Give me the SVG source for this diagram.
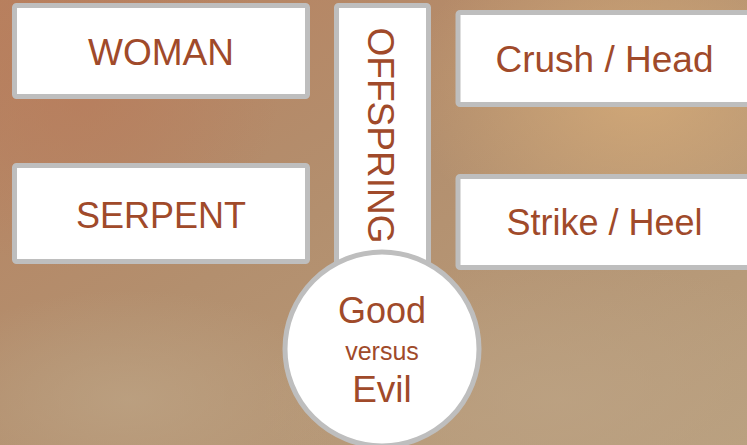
<svg xmlns="http://www.w3.org/2000/svg" width="747" height="445" viewBox="0 0 747 445">
<defs>
<linearGradient id="bg" x1="0" y1="0" x2="1" y2="1">
<stop offset="0" stop-color="#b8815f"/>
<stop offset="0.45" stop-color="#b38f6e"/>
<stop offset="1" stop-color="#b9a07f"/>
</linearGradient>
<radialGradient id="blobR" cx="0.5" cy="0.5" r="0.5">
<stop offset="0" stop-color="#dcb07a" stop-opacity="0.7"/>
<stop offset="1" stop-color="#dcb07a" stop-opacity="0"/>
</radialGradient>
<radialGradient id="blobL" cx="0.5" cy="0.5" r="0.5">
<stop offset="0" stop-color="#b87a5a" stop-opacity="0.6"/>
<stop offset="1" stop-color="#b87a5a" stop-opacity="0"/>
</radialGradient>
<radialGradient id="blobB" cx="0.5" cy="0.5" r="0.5">
<stop offset="0" stop-color="#bca283" stop-opacity="0.8"/>
<stop offset="1" stop-color="#bca283" stop-opacity="0"/>
</radialGradient>
</defs>
<style>
.box{fill:#ffffff;stroke:#bebebe;stroke-width:5}
.lbl{font-family:"Liberation Sans",Arial,sans-serif;fill:#a04a2a;text-anchor:middle}
</style>
<rect x="0" y="0" width="747" height="445" fill="url(#bg)"/>
<ellipse cx="640" cy="90" rx="230" ry="170" fill="url(#blobR)"/>
<ellipse cx="80" cy="90" rx="200" ry="180" fill="url(#blobL)"/>
<ellipse cx="560" cy="400" rx="300" ry="140" fill="url(#blobB)"/>
<ellipse cx="130" cy="400" rx="220" ry="110" fill="url(#blobB)"/>
<g id="connectors"></g>
<g id="woman">
<rect class="box" x="14.5" y="5.5" width="293" height="91" rx="2"/>
<text class="lbl" x="161" y="65" font-size="37">WOMAN</text>
</g>
<g id="serpent">
<rect class="box" x="14.5" y="165.5" width="293" height="96" rx="2"/>
<text class="lbl" x="161" y="228" font-size="36">SERPENT</text>
</g>
<g id="crush-head">
<rect class="box" x="458" y="12.5" width="300" height="92" rx="2"/>
<text class="lbl" x="604.5" y="72" font-size="37">Crush / Head</text>
</g>
<g id="strike-heel">
<rect class="box" x="458" y="176.5" width="300" height="91" rx="2"/>
<text class="lbl" x="604.5" y="235" font-size="36">Strike / Heel</text>
</g>
<g id="offspring">
<rect class="box" x="336.5" y="5.5" width="92" height="270" rx="2"/>
<text class="lbl" font-size="37" transform="translate(368,135.5) rotate(90)">OFFSPRING</text>
</g>
<g id="good-versus-evil">
<circle class="box" cx="382" cy="349" r="97"/>
<text class="lbl" x="382" y="323" font-size="36">Good</text>
<text class="lbl" x="382" y="360" font-size="25">versus</text>
<text class="lbl" x="382" y="402" font-size="37">Evil</text>
</g>
</svg>
